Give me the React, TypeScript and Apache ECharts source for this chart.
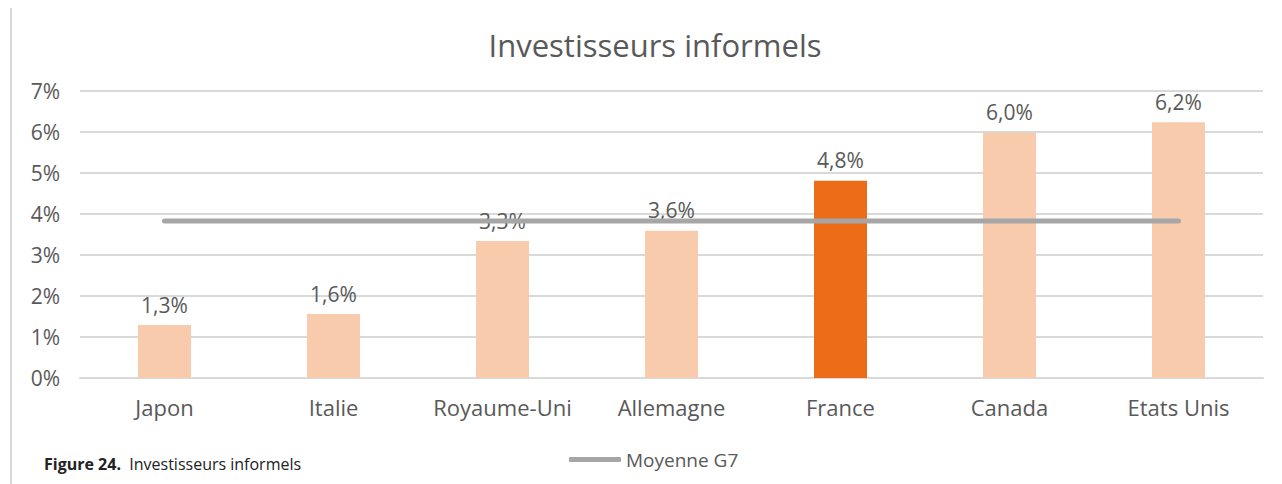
import React, { useEffect, useRef } from "react";
import * as echarts from "echarts";

const categories = ["Japon", "Italie", "Royaume-Uni", "Allemagne", "France", "Canada", "Etats Unis"];
const values = [1.29, 1.56, 3.34, 3.59, 4.81, 5.98, 6.24];
const g7Average = [3.83, 3.83, 3.83, 3.83, 3.83, 3.83, 3.83];
const highlight = "France";
const yTicks = [0, 1, 2, 3, 4, 5, 6, 7];

const FONT = "'Open Sans', 'Noto Sans', sans-serif";
const TXT = "#595959";

export default function App() {
  const ref = useRef<HTMLDivElement>(null);
  useEffect(() => {
    document.body.style.margin = "0";
    const chart = echarts.init(ref.current!, null, { renderer: "svg" });
    chart.setOption({
      animation: false,
      backgroundColor: "#ffffff",
      title: {
        text: "Investisseurs informels",
        left: 650,
        textAlign: "center",
        top: 24,
        textStyle: { fontFamily: FONT, fontSize: 31, fontWeight: "normal", color: TXT },
      },
      grid: { left: 80, right: 19, top: 91, bottom: 106 },
      legend: {
        data: [{ name: "Moyenne G7", icon: "roundRect" }],
        left: 564,
        top: 445,
        itemWidth: 52,
        itemHeight: 5,
        itemGap: 4,
        itemStyle: { color: "#a6a6a6" },
        textStyle: { fontFamily: FONT, fontSize: 19, color: TXT },
      },
      xAxis: {
        type: "category",
        data: categories,
        axisLine: { lineStyle: { color: "#d9d9d9", width: 2 } },
        axisTick: { show: false },
        axisLabel: { fontFamily: FONT, fontSize: 22, color: TXT, margin: 18, interval: 0, hideOverlap: false },
      },
      yAxis: {
        type: "value",
        min: yTicks[0],
        max: yTicks[yTicks.length - 1],
        interval: 1,
        axisLine: { show: false },
        axisTick: { show: false },
        splitLine: { lineStyle: { color: "#d9d9d9", width: 2 } },
        axisLabel: { fontFamily: FONT, fontSize: 21, color: TXT, margin: 20, formatter: "{value}%" },
      },
      series: [
        {
          type: "bar",
          name: "Investisseurs informels",
          barWidth: 53,
          data: values.map((v, i) => ({
            value: v,
            itemStyle: { color: categories[i] === highlight ? "#ec6c17" : "#f8cbad" },
          })),
          label: {
            show: true,
            position: "top",
            distance: 10,
            fontFamily: FONT,
            fontSize: 21,
            color: TXT,
            formatter: (p: any) => p.value.toFixed(1).replace(".", ",") + "%",
          },
          z: 2,
        },
        {
          type: "line",
          name: "Moyenne G7",
          data: g7Average,
          symbol: "none",
          lineStyle: { color: "#a6a6a6", width: 5, cap: "round" },
          itemStyle: { color: "#a6a6a6" },
          z: 3,
        },
      ],
      graphic: [
        {
          type: "line",
          shape: { x1: 11, y1: 8, x2: 11, y2: 484 },
          style: { stroke: "#d9d9d9", lineWidth: 2 },
        },
        {
          type: "text",
          left: 44,
          top: 456,
          style: {
            text: "{b|Figure 24.}  Investisseurs informels",
            rich: {
              b: { fontFamily: FONT, fontSize: 16, fontWeight: "bold", fill: "#222222" },
            },
            fontFamily: FONT,
            fontSize: 16,
            fill: "#222222",
          },
        },
      ],
    });
    return () => chart.dispose();
  }, []);
  return <div ref={ref} style={{ width: 1282, height: 484 }} />;
}
